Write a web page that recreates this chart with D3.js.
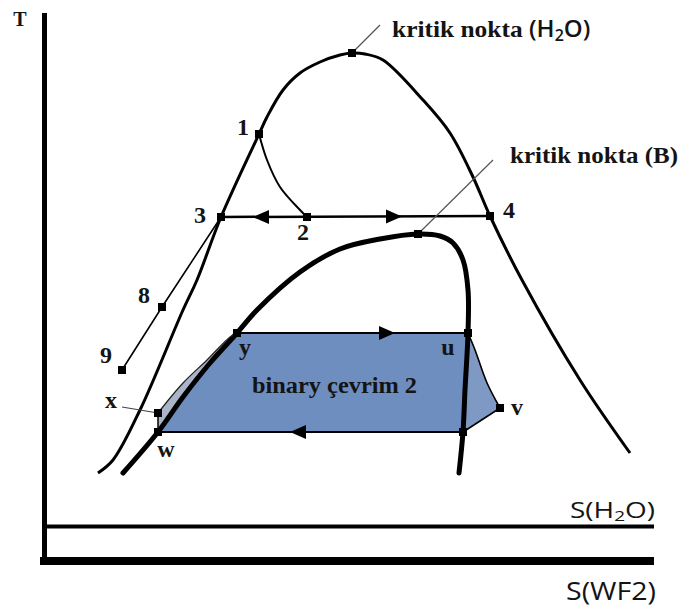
<!DOCTYPE html>
<html><head><meta charset="utf-8">
<script src="https://cdn.jsdelivr.net/npm/d3@7"></script>
<style>body{margin:0;background:#fff}svg{display:block}</style>
</head><body>
<svg id="chart" width="683" height="613"></svg>
<script>
// T–s diagram: water saturation dome and the binary working fluid (B) dome,
// with the flash cycle on water and "binary çevrim 2". Units are arbitrary (s, T).

// water (H2O) saturation dome, left branch -> critical point -> right branch
const domeH2O = [[5.4,8.8],[6.9,10.1],[9.6,15.1],[13.9,25.1],[15.3,28.1],[17.7,34.4],[21.5,42.7],
  [22.3,44.4],[23.9,47.1],[25.6,48.8],[27.6,49.9],[29.6,50.6],[30.8,50.8],[32.1,50.7],[33.9,50.1],
  [37.9,46.1],[40.6,42.8],[42.9,38.4],[44.6,34.5],[47.8,28.1],[53.6,18.1],[58.6,10.8]];
// working fluid B saturation dome
const domeB = [[7.9,8.8],[11.4,12.9],[13.9,16.4],[16.6,19.8],[19.3,22.8],[21.3,25.1],[25.6,28.9],
  [29.6,31.2],[33.6,32.2],[37.4,32.7],[39.6,32.5],[40.9,31.8],[41.9,30.1],[42.4,27.1],[42.4,22.8],
  [42.1,17.1],[41.9,12.9],[41.5,8.8]];
// flash expansion 1 -> 2
const expansion12 = [[21.5,42.7],[22.3,40.1],[23.6,37.4],[25.6,35.1],[26.3,34.4]];
// separator line 3 -> 4 and liquid line 3 -> 8 -> 9
const line34 = [[17.7,34.4],[44.6,34.5]];
const line389 = [[17.7,34.4],[11.8,25.4],[7.8,19.1]];
// binary cycle state points
const cycle = {y:[19.3,22.8], u:[42.4,22.8], v:[45.6,15.3], r:[41.9,12.9], w:[11.4,12.9], x:[11.4,14.8]};
const curveUV = [[42.4,22.8],[43.1,21.1],[44.3,17.8],[45.6,15.3]];
const curveXY = [[11.4,14.8],[13.9,17.8],[16.3,20.1],[18.6,22.4],[19.3,22.8]];
// labelled state points
const points = [
  {name:"1", p:[21.5,42.7]}, {name:"2", p:[26.3,34.4]}, {name:"3", p:[17.7,34.4]},
  {name:"4", p:[44.6,34.5]}, {name:"8", p:[11.8,25.4]}, {name:"9", p:[7.8,19.1]},
  {name:"y", p:[19.3,22.8]}, {name:"u", p:[42.4,22.8]}, {name:"v", p:[45.6,15.3]},
  {name:"x", p:[11.4,14.8]}, {name:"w", p:[11.4,12.9]}, {name:"", p:[41.9,12.9]}
];
const criticalPoints = [
  {label:"H2O", p:[30.8,50.8], lead:[33.6,53.6], text:[34.8,52.4]},
  {label:"B",   p:[37.4,32.7], lead:[44.9,40.1], text:[46.6,39.8]}
];
// direction arrows: tip position and direction (+1 right, -1 left)
const arrows = [
  {tip:[20.9,34.4], dir:-1}, {tip:[35.8,34.45], dir:1},
  {tip:[35.1,22.8], dir:1},  {tip:[24.6,12.9], dir:-1}
];
const cycleLabel = "binary çevrim 2";

const svg = d3.select("#chart");
const xS = d3.scaleLinear().domain([0,61]).range([44,654]);
const yS = d3.scaleLinear().domain([0,54.8]).range([561,13]);
const smooth = d3.line().x(d=>xS(d[0])).y(d=>yS(d[1])).curve(d3.curveCatmullRom.alpha(0.5));
const straight = d3.line().x(d=>xS(d[0])).y(d=>yS(d[1]));

const serif = "'Liberation Serif','Times New Roman',serif";
const sans = "'Open Sans','Noto Sans',sans-serif";
const ink = "#141414";

// --- fills of the binary cycle
const c = cycle;
svg.append("path")
  .attr("d", straight([c.x, ...curveXY.slice(1), [16.6,19.8],[13.9,16.4], c.w]) + "Z")
  .attr("fill","#aab5c8").attr("stroke","none");
svg.append("path")
  .attr("d", straight([c.y, c.u, [42.1,17.1], c.r, c.w, [13.9,16.4],[16.6,19.8]]) + "Z")
  .attr("fill","#6e8ebf");
svg.append("path")
  .attr("d", smooth(curveUV) + "L" + xS(c.r[0]) + "," + yS(c.r[1]) + "L" + xS(42.1) + "," + yS(17.1) + "Z")
  .attr("fill","#7d99c4").attr("stroke","#b4b8bf").attr("stroke-width",1.5);

// --- axes: T vertical, two entropy axes
svg.append("line").attr("x1",xS(0)+0.5).attr("x2",xS(0)+0.5).attr("y1",yS(54.8)).attr("y2",yS(0)+4)
  .attr("stroke","#000").attr("stroke-width",5);
svg.append("line").attr("x1",xS(0)-2).attr("x2",xS(61)).attr("y1",yS(3.45)).attr("y2",yS(3.45))
  .attr("stroke","#000").attr("stroke-width",4);
svg.append("line").attr("x1",xS(0)-4).attr("x2",xS(61)).attr("y1",yS(0)).attr("y2",yS(0))
  .attr("stroke","#000").attr("stroke-width",8);

// --- domes and process lines
svg.append("path").attr("d",smooth(domeH2O)).attr("fill","none").attr("stroke","#000").attr("stroke-width",3);
svg.append("path").attr("d",smooth(domeB)).attr("fill","none").attr("stroke","#000").attr("stroke-width",5)
  .attr("stroke-linecap","round");
svg.append("path").attr("d",smooth(expansion12)).attr("fill","none").attr("stroke","#000").attr("stroke-width",2);
svg.append("path").attr("d",straight(line34)).attr("fill","none").attr("stroke","#000").attr("stroke-width",2.5);
svg.append("path").attr("d",straight(line389)).attr("fill","none").attr("stroke","#000").attr("stroke-width",1.6);
svg.append("path").attr("d",straight([c.y,c.u])).attr("stroke","#000").attr("stroke-width",2);
svg.append("path").attr("d",straight([c.r,c.w])).attr("stroke","#000").attr("stroke-width",2);
svg.append("path").attr("d",smooth(curveUV)).attr("fill","none").attr("stroke","#000").attr("stroke-width",1.6);
svg.append("path").attr("d",straight([c.v,c.r])).attr("stroke","#000").attr("stroke-width",1.6);
svg.append("path").attr("d",smooth(curveXY)).attr("fill","none").attr("stroke","#222").attr("stroke-width",1.3);
svg.append("path").attr("d",straight([c.x,c.w])).attr("stroke","#000").attr("stroke-width",1.5);

// --- arrows
svg.selectAll("path.arrow").data(arrows).join("path").attr("class","arrow")
  .attr("d", a => {
    const tx = xS(a.tip[0]), ty = yS(a.tip[1]), bx = tx - a.dir*16;
    return `M${tx},${ty}L${bx},${ty-7}L${bx},${ty+7}Z`;
  }).attr("fill","#000");

// --- critical points with leader lines
svg.selectAll("line.lead").data(criticalPoints).join("line").attr("class","lead")
  .attr("x1",d=>xS(d.p[0])).attr("y1",d=>yS(d.p[1])).attr("x2",d=>xS(d.lead[0])).attr("y2",d=>yS(d.lead[1]))
  .attr("stroke","#555").attr("stroke-width",1.2);
svg.append("line").attr("x1",122).attr("y1",407).attr("x2",xS(c.x[0])).attr("y2",yS(c.x[1]))
  .attr("stroke","#444").attr("stroke-width",1.2);

// --- state point markers
const markers = points.map(d=>d.p).concat(criticalPoints.map(d=>d.p));
svg.selectAll("rect.mk").data(markers).join("rect").attr("class","mk")
  .attr("x",d=>xS(d[0])-4).attr("y",d=>yS(d[1])-4).attr("width",8).attr("height",8).attr("fill","#000");

// --- state point labels (offset from each marker)
const offsets = {"1":[-16,1],"2":[-4,23],"3":[-21,6],"4":[19,2],"8":[-18,-4],"9":[-16,-7],
  "x":[-47,-5],"w":[8,25],"y":[8,22],"u":[-20,22],"v":[17,7]};
svg.selectAll("text.pt").data(points.filter(d=>d.name)).join("text").attr("class","pt")
  .attr("x",d=>xS(d.p[0])+offsets[d.name][0]).attr("y",d=>yS(d.p[1])+offsets[d.name][1])
  .attr("text-anchor","middle").attr("font-family",serif).attr("font-weight","bold")
  .attr("font-size",24).attr("fill",ink).text(d=>d.name);

// critical point captions
criticalPoints.forEach(d => {
  const t = svg.append("text").attr("x",xS(d.text[0])).attr("y",yS(d.text[1]))
    .attr("font-family",serif).attr("font-weight","bold").attr("font-size",24).attr("fill",ink);
  if (d.label === "H2O") {
    t.append("tspan").text("kritik nokta ").attr("textLength",137).attr("lengthAdjust","spacingAndGlyphs");
    const s = t.append("tspan").attr("font-family",sans).attr("font-weight",600).attr("font-size",24);
    s.append("tspan").text("(H");
    s.append("tspan").attr("font-size",16).attr("dy",4).text("2");
    s.append("tspan").attr("dy",-4).text("O)");
  } else {
    t.attr("textLength",168).attr("lengthAdjust","spacingAndGlyphs").text("kritik nokta (B)");
  }
});

// cycle caption
svg.append("text").attr("x",252).attr("y",393).attr("font-family",serif).attr("font-weight","bold")
  .attr("font-size",24).attr("fill",ink).attr("textLength",165).attr("lengthAdjust","spacingAndGlyphs")
  .text(cycleLabel);

// axis titles
svg.append("text").attr("x",20).attr("y",26).attr("text-anchor","middle").attr("font-family",serif)
  .attr("font-weight","bold").attr("font-size",20).attr("fill",ink).text("T");
const sH = svg.append("text").attr("x",570).attr("y",518)
  .attr("font-family",sans).attr("font-weight",500).attr("font-size",22).attr("fill",ink)
  .attr("textLength",85).attr("lengthAdjust","spacingAndGlyphs");
sH.append("tspan").text("S(H");
sH.append("tspan").attr("font-size",15).attr("dy",3).text("2");
sH.append("tspan").attr("dy",-3).text("O)");
svg.append("text").attr("x",656).attr("y",600).attr("text-anchor","end")
  .attr("font-family",sans).attr("font-weight",500).attr("font-size",25).attr("fill",ink)
  .attr("textLength",90).attr("lengthAdjust","spacingAndGlyphs").text("S(WF2)");
</script>
</body></html>
